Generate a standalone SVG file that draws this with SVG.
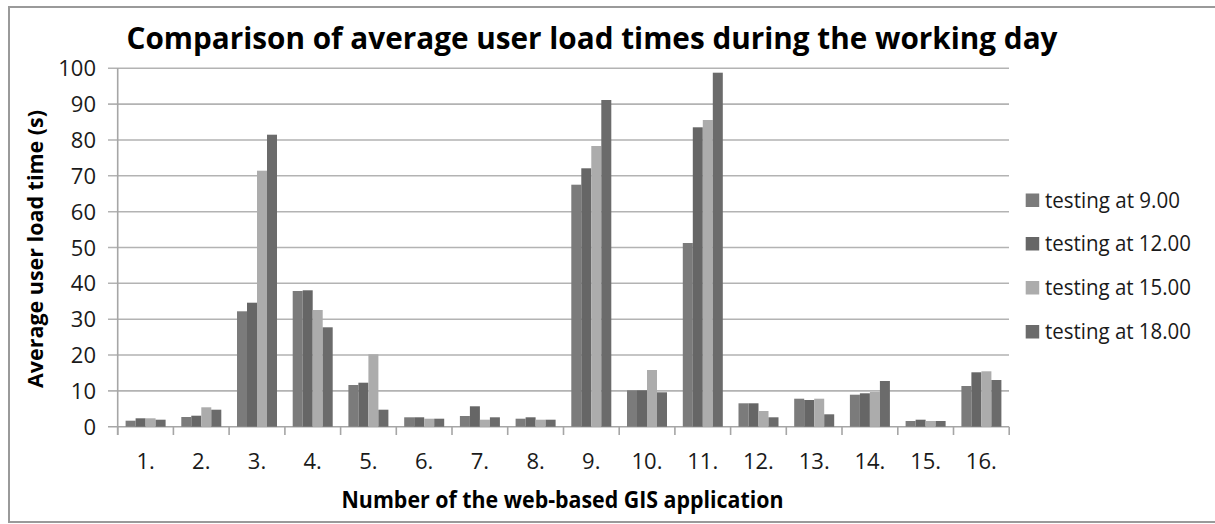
<svg xmlns="http://www.w3.org/2000/svg" width="1215" height="524" viewBox="0 0 1215 524">
<style>
.lbl{font-family:"Open Sans","Liberation Sans",sans-serif;font-size:22px;fill:#1a1a1a}
.ttl{font-family:"Open Sans","Liberation Sans",sans-serif;font-weight:bold;fill:#000}
.grid{stroke:#b3b3b3;stroke-width:1.6;fill:none}
.axis{stroke:#a6a6a6;stroke-width:1.6;fill:none}
.s1{fill:#7b7b7b}.s2{fill:#666666}.s3{fill:#acacac}.s4{fill:#6b6b6b}
</style>
<rect x="0" y="0" width="1215" height="524" fill="#ffffff"/>
<rect x="9" y="7" width="1240" height="515" fill="#ffffff" stroke="#9a9a9a" stroke-width="2"/>
<g id="title"><text class="ttl" x="126.5" y="49" font-size="31" textLength="931" lengthAdjust="spacingAndGlyphs">Comparison of average user load times during the working day</text></g>
<g id="grid">
<path class="grid" d="M108 68.3H1009M108 104.1H1009M108 140H1009M108 175.8H1009M108 211.7H1009M108 247.5H1009M108 283.3H1009M108 319.2H1009M108 355H1009M108 390.9H1009"/>
</g>
<g id="y-axis">
<path class="axis" d="M117.7 68.3V435M108 426.7H1009"/>
<g class="lbl" text-anchor="end">
<text x="96" y="76.3">100</text><text x="96" y="112.1">90</text><text x="96" y="148">80</text><text x="96" y="183.8">70</text><text x="96" y="219.7">60</text><text x="96" y="255.5">50</text><text x="96" y="291.3">40</text><text x="96" y="327.2">30</text><text x="96" y="363">20</text><text x="96" y="398.9">10</text><text x="96" y="434.7">0</text>
</g>
<text class="ttl" font-size="22" transform="translate(43 249) rotate(-90)" text-anchor="middle" textLength="278" lengthAdjust="spacingAndGlyphs">Average user load time (s)</text>
</g>
<g id="x-axis">
<path class="axis" d="M117.7 426.7V435M173.4 426.7V435M229.1 426.7V435M284.9 426.7V435M340.6 426.7V435M396.3 426.7V435M452 426.7V435M507.7 426.7V435M563.5 426.7V435M619.2 426.7V435M674.9 426.7V435M730.6 426.7V435M786.3 426.7V435M842 426.7V435M897.8 426.7V435M953.5 426.7V435M1009.2 426.7V435"/>
<g class="lbl" text-anchor="middle">
<text x="145.6" y="468.5">1.</text><text x="201.3" y="468.5">2.</text><text x="257" y="468.5">3.</text><text x="312.7" y="468.5">4.</text><text x="368.4" y="468.5">5.</text><text x="424.1" y="468.5">6.</text><text x="479.9" y="468.5">7.</text><text x="535.6" y="468.5">8.</text><text x="591.3" y="468.5">9.</text><text x="647" y="468.5">10.</text><text x="702.7" y="468.5">11.</text><text x="758.4" y="468.5">12.</text><text x="814.2" y="468.5">13.</text><text x="869.9" y="468.5">14.</text><text x="925.6" y="468.5">15.</text><text x="981.3" y="468.5">16.</text>
</g>
<text class="ttl" x="341.5" y="507.5" font-size="23" textLength="442" lengthAdjust="spacingAndGlyphs">Number of the web-based GIS application</text>
</g>
<g id="bars">
<g id="app1"><rect class="s1" x="125.6" y="420.7" width="10" height="6"/><rect class="s2" x="135.6" y="418.3" width="10" height="8.4"/><rect class="s3" x="145.6" y="418.3" width="10" height="8.4"/><rect class="s4" x="155.6" y="419.7" width="10" height="7"/></g>
<g id="app2"><rect class="s1" x="181.3" y="417" width="10" height="9.7"/><rect class="s2" x="191.3" y="415.7" width="10" height="11"/><rect class="s3" x="201.3" y="407.3" width="10" height="19.4"/><rect class="s4" x="211.3" y="409.7" width="10" height="17"/></g>
<g id="app3"><rect class="s1" x="237" y="311.3" width="10" height="115.4"/><rect class="s2" x="247" y="302.7" width="10" height="124"/><rect class="s3" x="257" y="170.7" width="10" height="256"/><rect class="s4" x="267" y="134.7" width="10" height="292"/></g>
<g id="app4"><rect class="s1" x="292.7" y="291" width="10" height="135.7"/><rect class="s2" x="302.7" y="290.3" width="10" height="136.4"/><rect class="s3" x="312.7" y="310" width="10" height="116.7"/><rect class="s4" x="322.7" y="327.3" width="10" height="99.4"/></g>
<g id="app5"><rect class="s1" x="348.4" y="385" width="10" height="41.7"/><rect class="s2" x="358.4" y="382.7" width="10" height="44"/><rect class="s3" x="368.4" y="354.3" width="10" height="72.4"/><rect class="s4" x="378.4" y="409.7" width="10" height="17"/></g>
<g id="app6"><rect class="s1" x="404.2" y="417.3" width="10" height="9.4"/><rect class="s2" x="414.2" y="417.3" width="10" height="9.4"/><rect class="s3" x="424.2" y="418.7" width="10" height="8"/><rect class="s4" x="434.2" y="418.7" width="10" height="8"/></g>
<g id="app7"><rect class="s1" x="459.9" y="416" width="10" height="10.7"/><rect class="s2" x="469.9" y="406.3" width="10" height="20.4"/><rect class="s3" x="479.9" y="419.7" width="10" height="7"/><rect class="s4" x="489.9" y="417.3" width="10" height="9.4"/></g>
<g id="app8"><rect class="s1" x="515.6" y="418.7" width="10" height="8"/><rect class="s2" x="525.6" y="417.3" width="10" height="9.4"/><rect class="s3" x="535.6" y="419.7" width="10" height="7"/><rect class="s4" x="545.6" y="419.7" width="10" height="7"/></g>
<g id="app9"><rect class="s1" x="571.3" y="184.7" width="10" height="242"/><rect class="s2" x="581.3" y="168.3" width="10" height="258.4"/><rect class="s3" x="591.3" y="146" width="10" height="280.7"/><rect class="s4" x="601.3" y="100" width="10" height="326.7"/></g>
<g id="app10"><rect class="s1" x="627" y="390.3" width="10" height="36.4"/><rect class="s2" x="637" y="390.3" width="10" height="36.4"/><rect class="s3" x="647" y="370" width="10" height="56.7"/><rect class="s4" x="657" y="392.3" width="10" height="34.4"/></g>
<g id="app11"><rect class="s1" x="682.8" y="243" width="10" height="183.7"/><rect class="s2" x="692.8" y="127.3" width="10" height="299.4"/><rect class="s3" x="702.8" y="120" width="10" height="306.7"/><rect class="s4" x="712.8" y="72.7" width="10" height="354"/></g>
<g id="app12"><rect class="s1" x="738.5" y="403.3" width="10" height="23.4"/><rect class="s2" x="748.5" y="403.3" width="10" height="23.4"/><rect class="s3" x="758.5" y="411" width="10" height="15.7"/><rect class="s4" x="768.5" y="417.3" width="10" height="9.4"/></g>
<g id="app13"><rect class="s1" x="794.2" y="398.7" width="10" height="28"/><rect class="s2" x="804.2" y="400" width="10" height="26.7"/><rect class="s3" x="814.2" y="398.7" width="10" height="28"/><rect class="s4" x="824.2" y="414.3" width="10" height="12.4"/></g>
<g id="app14"><rect class="s1" x="849.9" y="394.7" width="10" height="32"/><rect class="s2" x="859.9" y="393.3" width="10" height="33.4"/><rect class="s3" x="869.9" y="392" width="10" height="34.7"/><rect class="s4" x="879.9" y="381" width="10" height="45.7"/></g>
<g id="app15"><rect class="s1" x="905.6" y="421" width="10" height="5.7"/><rect class="s2" x="915.6" y="419.7" width="10" height="7"/><rect class="s3" x="925.6" y="421" width="10" height="5.7"/><rect class="s4" x="935.6" y="421" width="10" height="5.7"/></g>
<g id="app16"><rect class="s1" x="961.4" y="386" width="10" height="40.7"/><rect class="s2" x="971.4" y="372.3" width="10" height="54.4"/><rect class="s3" x="981.4" y="371.3" width="10" height="55.4"/><rect class="s4" x="991.4" y="380" width="10" height="46.7"/></g>
</g>
<g id="legend">
<g id="leg1"><rect class="s1" x="1025.7" y="193.5" width="13.5" height="13.5"/><text class="lbl" x="1045" y="207.5" textLength="135" lengthAdjust="spacingAndGlyphs">testing at 9.00</text></g>
<g id="leg2"><rect class="s2" x="1025.7" y="237" width="13.5" height="13.5"/><text class="lbl" x="1045" y="251" textLength="146" lengthAdjust="spacingAndGlyphs">testing at 12.00</text></g>
<g id="leg3"><rect class="s3" x="1025.7" y="281" width="13.5" height="13.5"/><text class="lbl" x="1045" y="295" textLength="146" lengthAdjust="spacingAndGlyphs">testing at 15.00</text></g>
<g id="leg4"><rect class="s4" x="1025.7" y="325" width="13.5" height="13.5"/><text class="lbl" x="1045" y="339" textLength="146" lengthAdjust="spacingAndGlyphs">testing at 18.00</text></g>
</g>
</svg>
